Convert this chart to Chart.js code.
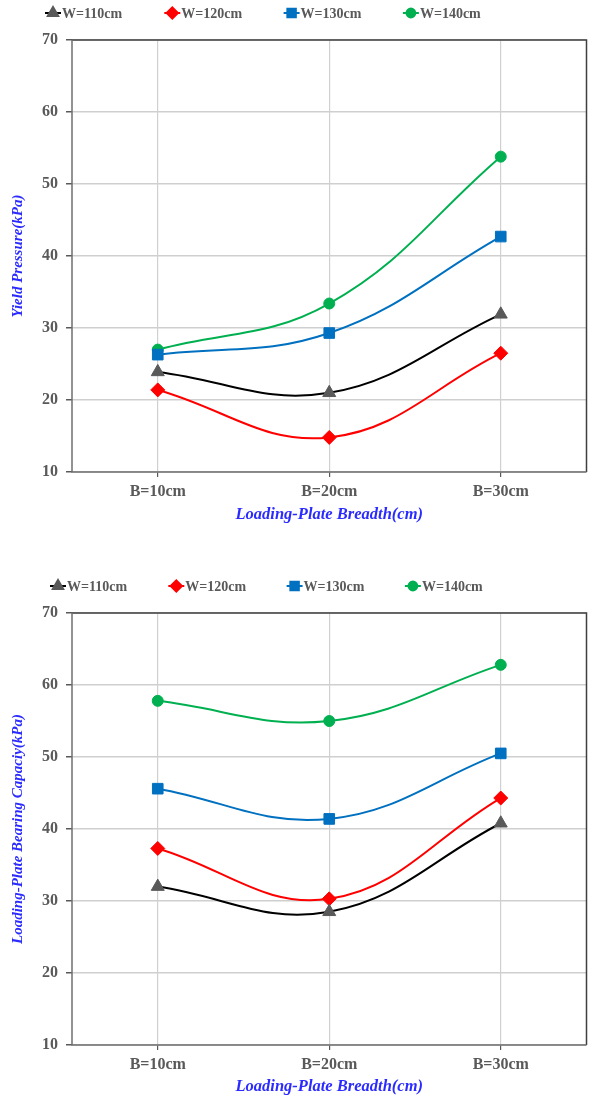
<!DOCTYPE html>
<html>
<head>
<meta charset="utf-8">
<script src="https://cdn.jsdelivr.net/npm/chart.js@4.4.0/dist/chart.umd.min.js"></script>
<style>
    body { margin: 0; background: #fff; width: 595px; height: 1101px; position: relative; overflow: hidden; }
    .box { position: absolute; left: 0; width: 595px; }
</style>
</head>
<body>
<div class="box" style="top:0;height:530px"><canvas id="yieldChart"></canvas></div>
<div class="box" style="top:573px;height:528px"><canvas id="bearingChart"></canvas></div>
<script>
const breadths = ['B=10cm', 'B=20cm', 'B=30cm'];
const widthLabels = ['W=110cm', 'W=120cm', 'W=130cm', 'W=140cm'];
const yTicks = [10, 20, 30, 40, 50, 60, 70];

// yield pressure (kPa)
const yieldW110 = [23.9, 21.0, 31.9];
const yieldW120 = [21.4, 14.8, 26.5];
const yieldW130 = [26.3, 29.3, 42.7];
const yieldW140 = [27.0, 33.4, 53.8];

// loading-plate bearing capacity (kPa)
const bearingW110 = [32.0, 28.5, 40.8];
const bearingW120 = [37.3, 30.3, 44.3];
const bearingW130 = [45.6, 41.4, 50.5];
const bearingW140 = [57.8, 55.0, 62.8];

const seriesStyle = [
    { line: '#000000', fill: '#595959', shape: 'triangle', r: 7.5 },
    { line: '#ff0000', fill: '#ff0000', shape: 'rectRot', r: 7 },
    { line: '#0070c0', fill: '#0070c0', shape: 'rect', r: 7.5 },
    { line: '#00b050', fill: '#00b050', shape: 'circle', r: 5.5 }
];

const serif = '"Liberation Serif", "Times New Roman", serif';
const tickFont = { family: serif, size: 16, weight: 'bold' };
const titleFont = { family: serif, size: 16.5, weight: 'bold', style: 'italic' };

// legend row: short line with marker, then label
const legendRow = {
    id: 'legendRow',
    afterDraw(chart, args, opts) {
        const ctx = chart.ctx;
        chart.data.datasets.forEach((ds, i) => {
            const cx = opts.x + i * opts.step;
            const cy = opts.y;
            ctx.save();
            ctx.strokeStyle = ds.borderColor;
            ctx.lineWidth = 2;
            ctx.beginPath();
            ctx.moveTo(cx - 8, cy);
            ctx.lineTo(cx + 8, cy);
            ctx.stroke();
            ctx.fillStyle = ds.pointBackgroundColor;
            ctx.strokeStyle = ds.pointBorderColor;
            Chart.helpers.drawPoint(ctx, { pointStyle: ds.pointStyle, radius: ds.pointRadius * 0.8, borderWidth: 1 }, cx, cy);
            ctx.font = 'bold 14px ' + serif;
            ctx.fillStyle = '#595959';
            ctx.textAlign = 'left';
            ctx.textBaseline = 'middle';
            ctx.fillText(ds.label, cx + 9, cy + 1);
            ctx.restore();
        });
    }
};

// dark box round the plot area
const plotFrame = {
    id: 'plotFrame',
    beforeDatasetsDraw(chart) {
        const { ctx, chartArea: a } = chart;
        ctx.save();
        ctx.strokeStyle = '#3f3f3f';
        ctx.lineWidth = 1.5;
        ctx.beginPath();
        ctx.moveTo(a.left, a.top);
        ctx.lineTo(a.right, a.top);
        ctx.lineTo(a.right, a.bottom);
        ctx.stroke();
        ctx.strokeStyle = '#6f6f6f';
        ctx.beginPath();
        ctx.moveTo(a.left, a.top);
        ctx.lineTo(a.left, a.bottom);
        ctx.lineTo(a.right, a.bottom);
        ctx.stroke();
        ctx.restore();
    }
};

function makeChart(id, values, yTitle, xAxisHeight, titlePad, legendX, legendStep) {
    const datasets = values.map((vals, i) => {
        const s = seriesStyle[i];
        return {
            label: widthLabels[i],
            data: vals,
            borderColor: s.line,
            borderWidth: 2,
            tension: 0.4,
            pointStyle: s.shape,
            pointRadius: s.r,
            pointBackgroundColor: s.fill,
            pointBorderColor: s.fill,
            pointBorderWidth: 1
        };
    });

    return new Chart(document.getElementById(id), {
        type: 'line',
        data: { labels: breadths, datasets: datasets },
        options: {
            responsive: true,
            maintainAspectRatio: false,
            animation: false,
            layout: { padding: { top: 40, right: 7, left: 0, bottom: 0 } },
            plugins: {
                legend: { display: false },
                tooltip: { enabled: false },
                legendRow: { x: legendX, step: legendStep, y: 13 }
            },
            scales: {
                x: {
                    offset: true,
                    afterFit: (scale) => { scale.height = xAxisHeight; },
                    grid: { offset: false, color: '#d0d0d0', lineWidth: 1.2, tickLength: 5, tickColor: '#595959' },
                    border: { display: false },
                    ticks: { color: '#595959', font: tickFont, padding: 5, maxRotation: 0 },
                    title: {
                        display: true,
                        text: 'Loading-Plate Breadth(cm)',
                        color: '#2b2bff',
                        font: titleFont,
                        padding: { top: 0, bottom: titlePad }
                    }
                },
                y: {
                    min: 10,
                    max: 70,
                    afterFit: (scale) => { scale.width = 72; },
                    afterBuildTicks: (scale) => { scale.ticks = yTicks.map(v => ({ value: v })); },
                    grid: { color: '#cfcfcf', lineWidth: 1.5, tickLength: 6, tickColor: '#595959' },
                    border: { display: false },
                    ticks: { color: '#595959', font: tickFont, padding: 8 },
                    title: {
                        display: true,
                        text: yTitle,
                        color: '#2b2bff',
                        font: { ...titleFont, size: 15 },
                        padding: { top: 9, bottom: 0 }
                    }
                }
            }
        },
        plugins: [legendRow, plotFrame]
    });
}

makeChart('yieldChart', [yieldW110, yieldW120, yieldW130, yieldW140],
    'Yield Pressure(kPa)', 58, 5, 53, 119.3);
makeChart('bearingChart', [bearingW110, bearingW120, bearingW130, bearingW140],
    'Loading-Plate Bearing Capaciy(kPa)', 56, 4, 58, 118.3);
</script>
</body>
</html>
